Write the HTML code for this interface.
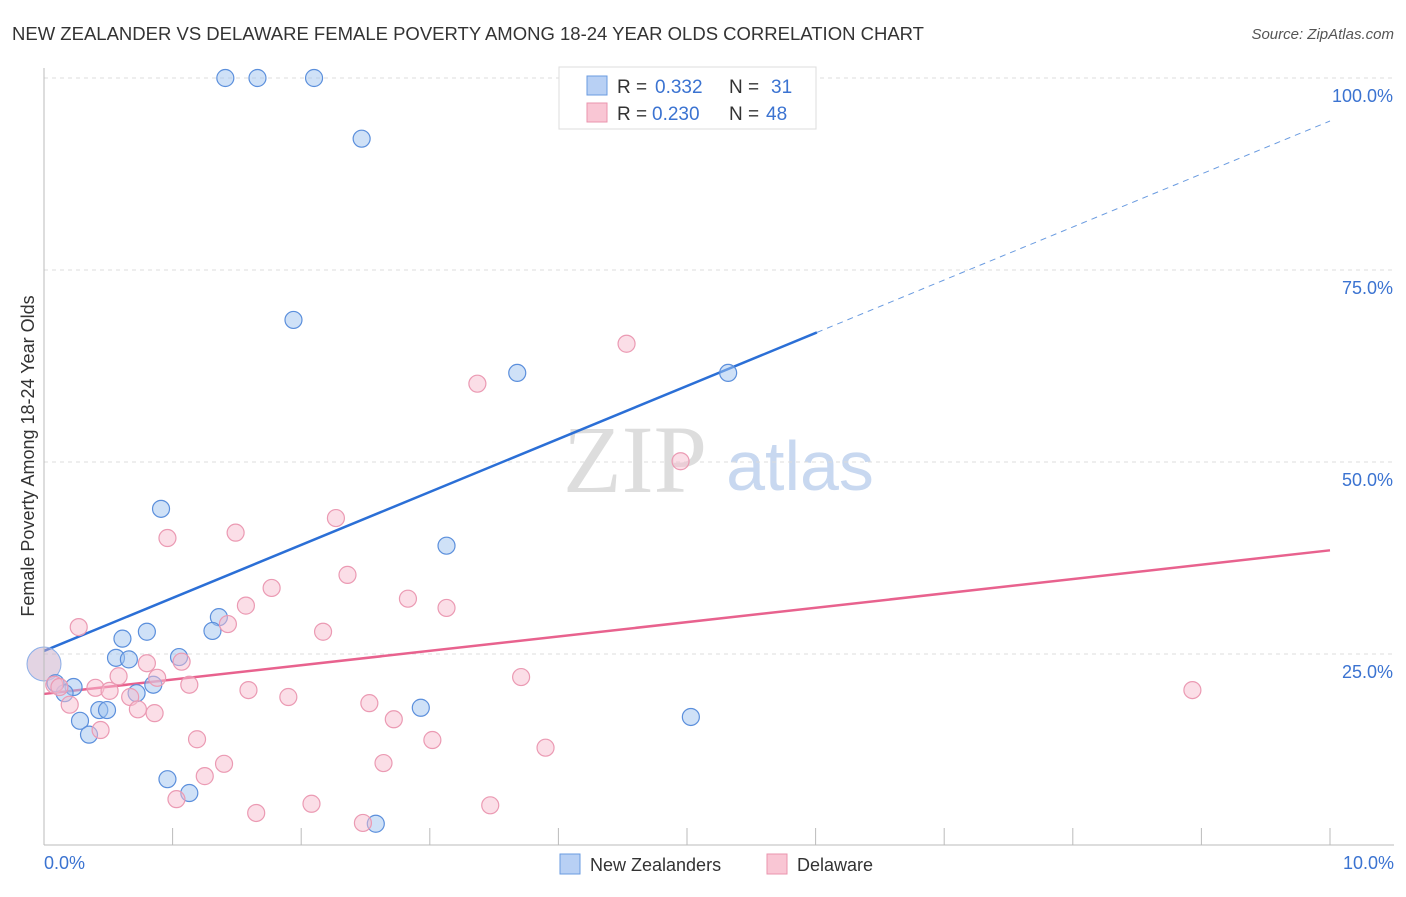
<!DOCTYPE html>
<html><head><meta charset="utf-8"><style>
body{margin:0;background:#fff;font-family:"Liberation Sans",sans-serif;}
</style></head><body>
<svg width="1406" height="892" xmlns="http://www.w3.org/2000/svg" font-family="Liberation Sans, sans-serif">
<text x="12" y="40" font-size="18" fill="#333" textLength="912" lengthAdjust="spacingAndGlyphs">NEW ZEALANDER VS DELAWARE FEMALE POVERTY AMONG 18-24 YEAR OLDS CORRELATION CHART</text>
<text x="1394" y="39" font-size="15" fill="#555" font-style="italic" text-anchor="end">Source: ZipAtlas.com</text>
<text transform="translate(34,456) rotate(-90)" font-size="18" fill="#333" text-anchor="middle">Female Poverty Among 18-24 Year Olds</text>
<text x="635" y="492" font-size="96" fill="#ddd" font-family="Liberation Serif, serif" text-anchor="middle">ZIP</text>
<text x="800" y="490" font-size="70" fill="#c8d8f0" text-anchor="middle">atlas</text>
<g id="grid"></g><g id="ticks"></g><g id="lines"></g><g id="pts"></g>
<line x1="44" y1="68" x2="44" y2="845" stroke="#bbb"/>
<line x1="44" y1="845" x2="1394" y2="845" stroke="#bbb"/>
<text x="44" y="869" font-size="18" fill="#3b73d1">0.0%</text>
<text x="1394" y="869" font-size="18" fill="#3b73d1" text-anchor="end">10.0%</text>
<g>
<rect x="559" y="67" width="257" height="62" fill="#fff" stroke="#ddd"/>
<rect x="587" y="76" width="20" height="19" fill="#b8d0f4" stroke="#6a9be0"/>
<rect x="587" y="103" width="20" height="19" fill="#f9c6d4" stroke="#ea94ae"/>
<text x="617" y="93" font-size="19" fill="#333">R =</text>
<text x="655" y="93" font-size="19" fill="#3b73d1">0.332</text>
<text x="729" y="93" font-size="19" fill="#333">N =</text>
<text x="771" y="93" font-size="19" fill="#3b73d1">31</text>
<text x="617" y="120" font-size="19" fill="#333">R =</text>
<text x="652" y="120" font-size="19" fill="#3b73d1">0.230</text>
<text x="729" y="120" font-size="19" fill="#333">N =</text>
<text x="766" y="120" font-size="19" fill="#3b73d1">48</text>
</g>
<g>
<rect x="560" y="854" width="20" height="20" fill="#b8d0f4" stroke="#6a9be0"/>
<text x="590" y="871" font-size="18" fill="#333">New Zealanders</text>
<rect x="767" y="854" width="20" height="20" fill="#f9c6d4" stroke="#ea94ae"/>
<text x="797" y="871" font-size="18" fill="#333">Delaware</text>
</g>
</svg>
<script>
const yTicks=[25,50,75,100];
const yTickLabels=["25.0%","50.0%","75.0%","100.0%"];
const xTicks=[1,2,3,4,5,6,7,8,9,10];
const blueX=[1.41,1.66,2.10,2.47,1.94,3.68,5.32,0.91,3.13,1.36,1.31,0.80,0.61,0.56,0.66,1.05,0.85,0.72,0.23,0.16,0.09,0.28,0.43,0.49,0.35,0.96,1.13,2.58,2.93,5.03];
const blueY=[100,100,100,92.1,68.5,61.6,61.6,43.9,39.1,29.8,28.0,27.9,27.0,24.5,24.3,24.6,21.0,19.9,20.7,19.9,21.2,16.3,17.7,17.7,14.5,8.7,6.9,2.9,18.0,16.8];
const pinkX=[0.27,0.96,1.49,2.27,3.37,4.53,4.95,1.77,1.57,1.43,2.36,2.83,3.13,2.17,1.07,0.80,0.58,0.88,1.13,0.40,0.51,0.67,0.73,0.86,0.20,0.44,1.59,1.90,3.71,2.53,2.72,3.02,3.90,1.19,2.64,1.40,1.25,1.03,1.65,2.08,2.48,3.47,8.93,0.08,0.12];
const pinkY=[28.5,40.1,40.8,42.7,60.2,65.4,50.1,33.6,31.3,28.9,35.3,32.2,31.0,27.9,24.0,23.8,22.1,21.9,21.0,20.6,20.2,19.4,17.8,17.3,18.4,15.1,20.3,19.4,22.0,18.6,16.5,13.8,12.8,13.9,10.8,10.7,9.1,6.1,4.3,5.5,3.0,5.3,20.3,21.0,20.7];
const blueLine=[25.4,94.4];
const pinkLine=[19.8,38.5];
const blueSolidEnd=6.01;
const NS="http://www.w3.org/2000/svg";
const sx=v=>44+v*128.6, sy=v=>846-v*7.68;
function mk(tag,attrs,parent){const e=document.createElementNS(NS,tag);for(const k in attrs)e.setAttribute(k,attrs[k]);document.getElementById(parent).appendChild(e);return e;}
yTicks.forEach((t,i)=>{
 const g=mk('line',{x1:44,x2:1394,y1:sy(t),y2:sy(t),stroke:'#ddd','stroke-dasharray':'4,4'},'grid');
 
 
 const l=mk('text',{x:1393,y:sy(t)+24,'font-size':18,fill:'#3b73d1','text-anchor':'end'},'grid');l.textContent=yTickLabels[i];
 
 
});
xTicks.forEach(t=>{
 const e=mk('line',{x1:sx(t),x2:sx(t),y1:828,y2:845,stroke:'#bbb'},'ticks');
 
 
});
const by=x=>blueLine[0]+(blueLine[1]-blueLine[0])*x/10;
let e=mk('line',{x1:sx(0),y1:sy(by(0)),x2:sx(blueSolidEnd),y2:sy(by(blueSolidEnd)),stroke:'#2b6fd6','stroke-width':2.5},'lines');


e=mk('line',{x1:sx(blueSolidEnd),y1:sy(by(blueSolidEnd)),x2:sx(10),y2:sy(by(10)),stroke:'#6a9be0','stroke-width':1,'stroke-dasharray':'6,5'},'lines');


e=mk('line',{x1:sx(0),y1:sy(pinkLine[0]),x2:sx(10),y2:sy(pinkLine[1]),stroke:'#e8628e','stroke-width':2.5},'lines');


let c=mk('circle',{cx:sx(0),cy:sy(23.7),r:17,fill:'rgba(200,170,200,0.5)',stroke:'#8aaee8'},'pts');


blueX.forEach((x,i)=>{
 const p=mk('circle',{cx:sx(x),cy:sy(blueY[i]),r:8.5,fill:'rgba(160,195,240,0.5)',stroke:'#5b8fdc','stroke-width':1.2},'pts');
 
 
});
pinkX.forEach((x,i)=>{
 const p=mk('circle',{cx:sx(x),cy:sy(pinkY[i]),r:8.5,fill:'rgba(248,190,208,0.5)',stroke:'#eb9ab3','stroke-width':1.2},'pts');
 
 
});
</script>
</body></html>
